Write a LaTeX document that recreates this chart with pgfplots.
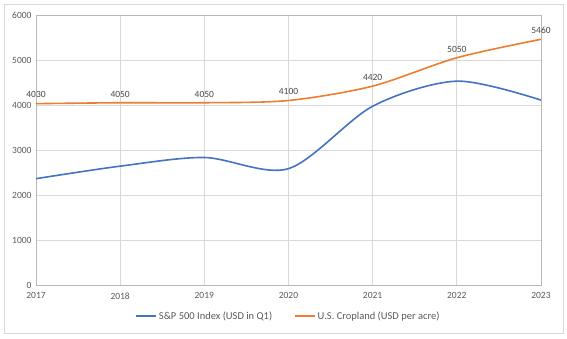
\documentclass[border=0pt]{standalone}
\usepackage{fontspec}
\setmainfont{Carlito}
\usepackage{pgfplots}
\pgfplotsset{compat=1.18}
\definecolor{xblue}{HTML}{4472C4}
\definecolor{xorange}{HTML}{ED7D31}
\definecolor{txt}{HTML}{595959}
\definecolor{gridc}{HTML}{D9D9D9}
\begin{document}
\begin{tikzpicture}[x=1pt,y=1pt]
\useasboundingbox (0,0) rectangle (567,338);
\draw[gridc, line width=0.75pt] (4,5) rectangle (563,334);
\begin{axis}[
  at={(36pt,53pt)}, anchor=south west,
  scale only axis, width=505pt, height=270pt,
  xmin=2017, xmax=2023, ymin=0, ymax=6000,
  xtick={2017,...,2023}, ytick={0,1000,...,6000},
  /pgf/number format/1000 sep={},
  /pgf/number format/assume math mode=true,
  grid=major, grid style={gridc, line width=0.75pt},
  axis line style={gridc!85!black, line width=0.75pt},
  major tick length=0pt,
  tick label style={font=\fontsize{9.5}{11}\selectfont, text=txt},
  xticklabel style={yshift=-4pt},
  yticklabel style={xshift=-1pt},
  legend columns=2,
  legend style={at={(0.5,-0.115)}, anchor=center, draw=none, fill=none,
    font=\fontsize{10.5}{12}\selectfont, text=txt,
    /tikz/every even column/.append style={column sep=20pt}},
  legend image code/.code={\draw[#1, line width=1.5pt] (-1pt,0pt) -- (19pt,0pt);},
  legend cell align=left,
]
\addplot[xblue, line width=1.6pt, smooth, tension=0.5] coordinates {
 (2017,2363) (2018,2641) (2019,2834) (2020,2585) (2021,3973) (2022,4530) (2023,4109)};
\addlegendentry{S\&P 500 Index (USD in Q1)}
\addplot[xorange, line width=1.6pt, smooth, tension=0.5,
  nodes near coords, point meta=explicit symbolic,
  every node near coord/.append style={font=\fontsize{9.5}{11}\selectfont, text=txt!80!black, anchor=south, yshift=1.5pt}]
  coordinates {
 (2017,4030) [4030] (2018,4050) [4050] (2019,4050) [4050] (2020,4100) [4100] (2021,4420) [4420] (2022,5050) [5050] (2023,5460) [5460]};
\addlegendentry{U.S. Cropland (USD per acre)}
\end{axis}
\end{tikzpicture}
\end{document}
